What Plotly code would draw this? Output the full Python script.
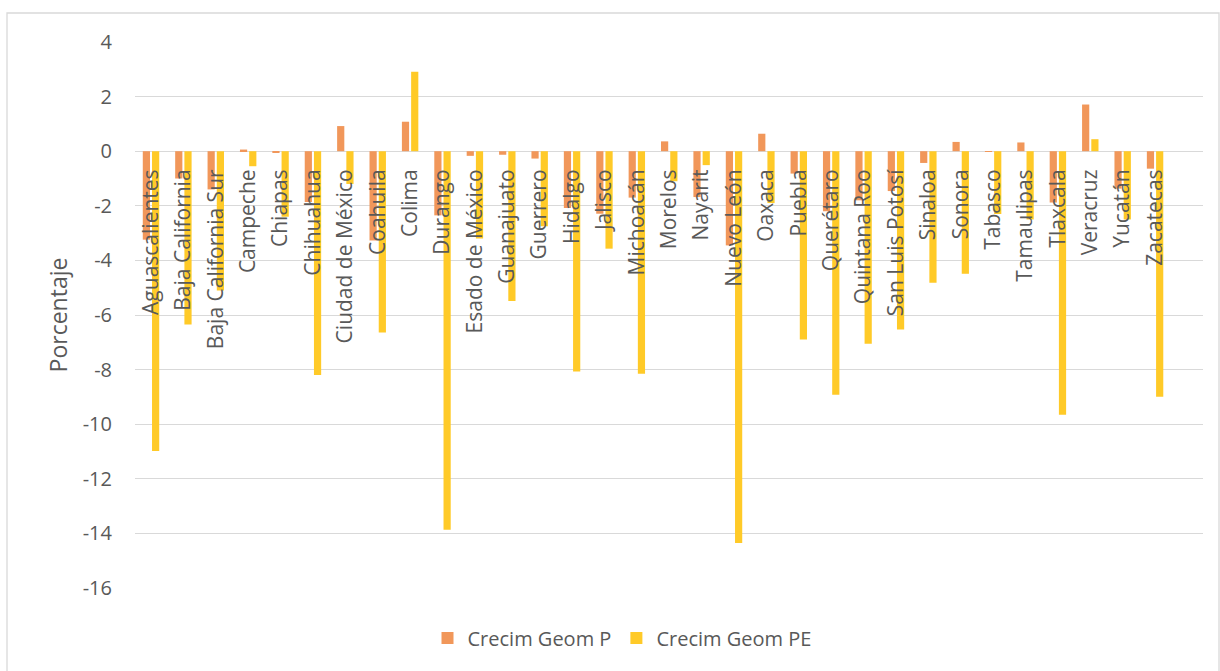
import plotly.graph_objects as go

states = ["Aguascalientes", "Baja California", "Baja California Sur", "Campeche", "Chiapas",
          "Chihuahua", "Ciudad de México", "Coahuila", "Colima", "Durango", "Esado de México",
          "Guanajuato", "Guerrero", "Hidalgo", "Jalisco", "Michoacán", "Morelos", "Nayarit",
          "Nuevo León", "Oaxaca", "Puebla", "Querétaro", "Quintana Roo", "San Luis Potosí",
          "Sinaloa", "Sonora", "Tabasco", "Tamaulipas", "Tlaxcala", "Veracruz", "Yucatán",
          "Zacatecas"]

crecim_p = [-3.24, -1.00, -1.40, 0.06, -0.05, -1.86, 0.92, -3.27, 1.08, -2.35, -0.17,
            -0.13, -0.27, -2.08, -2.29, -1.70, 0.36, -1.68, -3.45, 0.64, -0.82, -2.20,
            -1.80, -1.46, -0.43, 0.34, -0.02, 0.32, -1.88, 1.71, -1.37, -0.64]

crecim_pe = [-10.98, -6.35, -5.10, -0.55, -2.40, -8.20, -1.20, -6.64, 2.91, -13.87, -3.20,
             -5.49, -2.75, -8.07, -3.57, -8.15, -1.10, -0.51, -14.35, -1.90, -6.90, -8.92,
             -7.05, -6.53, -4.82, -4.49, -2.30, -2.50, -9.65, 0.44, -2.50, -8.99]

y_tick_values = [-16, -14, -12, -10, -8, -6, -4, -2, 0, 2, 4]
y_tick_labels = ["-16", "-14", "-12", "-10", "-8", "-6", "-4", "-2", "0", "2", "4"]

y_min, y_max = -16, 4
font_family = "Open Sans, DejaVu Sans, sans-serif"
gray_text = "#595959"

fig = go.Figure()
fig.add_trace(go.Bar(x=states, y=crecim_p, name="Crecim Geom P",
                     marker=dict(color="#F1975A", line=dict(width=0))))
fig.add_trace(go.Bar(x=states, y=crecim_pe, name="Crecim Geom PE",
                     marker=dict(color="#FFCA28", line=dict(width=0))))

W, H = 1220, 671
L, R, T, B = 135, 17, 42, 83
pw, ph = W - L - R, H - T - B

fig.update_layout(
    width=W, height=H,
    margin=dict(l=L, r=R, t=T, b=B),
    paper_bgcolor="white", plot_bgcolor="white",
    barmode="group", bargap=0.43, bargroupgap=0.22,
    font=dict(family=font_family, color=gray_text, size=20),
    showlegend=True,
    legend=dict(orientation="h", x=(622 - L) / pw, xanchor="center",
                y=(H - B - 638) / ph, yanchor="middle",
                font=dict(size=20, color=gray_text),
                traceorder="normal"),
    xaxis=dict(type="category", anchor="free",
               range=[-0.494, 32.48],
               position=(0 - y_min) / (y_max - y_min),
               tickangle=-90, showgrid=False, showline=False, zeroline=False,
               ticks="", ticklabelstandoff=13,
               tickfont=dict(size=21, color=gray_text)),
    yaxis=dict(range=[y_min, y_max], tickmode="array",
               tickvals=y_tick_values, ticktext=y_tick_labels,
               showgrid=True, gridcolor="#D9D9D9", gridwidth=1.3,
               zeroline=True, zerolinecolor="#D9D9D9", zerolinewidth=1.3,
               showline=False, ticks="", ticklabelstandoff=22,
               tickfont=dict(size=20, color=gray_text),
               title=dict(text="Porcentaje", standoff=8,
                          font=dict(size=23, color=gray_text))),
    shapes=[dict(type="rect", xref="paper", yref="paper",
                 x0=(7 - L) / pw, x1=(1219 - L) / pw,
                 y0=(H - B - 672) / ph, y1=(H - B - 13) / ph,
                 line=dict(color="#D9D9D9", width=1.3), fillcolor="rgba(0,0,0,0)",
                 layer="below")],
)

fig.write_html("out.html")
